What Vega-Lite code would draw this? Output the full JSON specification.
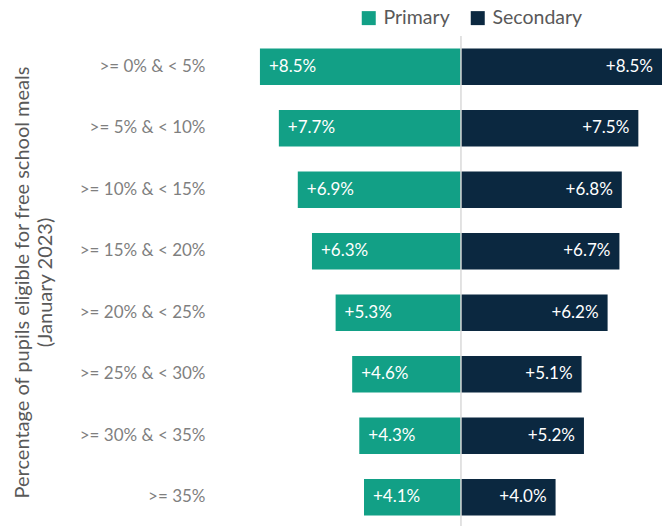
{
  "$schema": "https://vega.github.io/schema/vega-lite/v6.json",
  "autosize": "none",
  "width": 447,
  "height": 492,
  "padding": {"left": 215, "top": 36, "right": 0, "bottom": 0},
  "background": "white",
  "config": {
    "view": {"stroke": null},
    "font": "Lato"
  },
  "data": {
    "values": [
      {"band": ">= 0% & < 5%", "series": "Primary", "value": -8.5, "label": "+8.5%"},
      {"band": ">= 0% & < 5%", "series": "Secondary", "value": 8.5, "label": "+8.5%"},
      {"band": ">= 5% & < 10%", "series": "Primary", "value": -7.7, "label": "+7.7%"},
      {"band": ">= 5% & < 10%", "series": "Secondary", "value": 7.5, "label": "+7.5%"},
      {"band": ">= 10% & < 15%", "series": "Primary", "value": -6.9, "label": "+6.9%"},
      {"band": ">= 10% & < 15%", "series": "Secondary", "value": 6.8, "label": "+6.8%"},
      {"band": ">= 15% & < 20%", "series": "Primary", "value": -6.3, "label": "+6.3%"},
      {"band": ">= 15% & < 20%", "series": "Secondary", "value": 6.7, "label": "+6.7%"},
      {"band": ">= 20% & < 25%", "series": "Primary", "value": -5.3, "label": "+5.3%"},
      {"band": ">= 20% & < 25%", "series": "Secondary", "value": 6.2, "label": "+6.2%"},
      {"band": ">= 25% & < 30%", "series": "Primary", "value": -4.6, "label": "+4.6%"},
      {"band": ">= 25% & < 30%", "series": "Secondary", "value": 5.1, "label": "+5.1%"},
      {"band": ">= 30% & < 35%", "series": "Primary", "value": -4.3, "label": "+4.3%"},
      {"band": ">= 30% & < 35%", "series": "Secondary", "value": 5.2, "label": "+5.2%"},
      {"band": ">= 35%", "series": "Primary", "value": -4.1, "label": "+4.1%"},
      {"band": ">= 35%", "series": "Secondary", "value": 4.0, "label": "+4.0%"}
    ]
  },
  "layer": [
    {
      "encoding": {
        "y": {
          "field": "band",
          "type": "nominal",
          "sort": null,
          "scale": {"paddingInner": 0.41, "paddingOuter": 0.205},
          "axis": {
            "title": ["Percentage of pupils eligible for free school meals", "(January 2023)"],
            "titleFont": "Lato",
            "titleFontSize": 20,
            "titleFontWeight": "normal",
            "titleColor": "#595959",
            "titlePadding": 24,
            "titleLineHeight": 23,
            "labelFont": "Lato",
            "labelFontSize": 17,
            "labelColor": "#7f7f7f",
            "labelPadding": 10,
            "ticks": false,
            "domain": false,
            "grid": false
          }
        }
      },
      "layer": [
        {
          "mark": {"type": "bar"},
          "encoding": {
            "x": {
              "field": "value",
              "type": "quantitative",
              "scale": {"domain": [-10.4, 8.5], "nice": false, "zero": false},
              "axis": null
            },
            "color": {
              "field": "series",
              "type": "nominal",
              "scale": {"domain": ["Primary", "Secondary"], "range": ["#12a086", "#0b2840"]},
              "legend": {
                "title": null,
                "orient": "none",
                "legendX": 144,
                "legendY": -28,
                "direction": "horizontal",
                "symbolType": "square",
                "symbolSize": 196,
                "symbolStrokeWidth": 0,
                "labelFont": "Lato",
                "labelFontSize": 19.5,
                "labelColor": "#595959",
                "labelOffset": 5,
                "columnPadding": 18
              }
            }
          }
        },
        {
          "transform": [{"filter": "datum.series == 'Primary'"}],
          "mark": {"type": "text", "align": "left", "baseline": "middle", "dx": 9, "color": "white", "fontSize": 17, "font": "Lato"},
          "encoding": {
            "x": {"field": "value", "type": "quantitative"},
            "text": {"field": "label"}
          }
        },
        {
          "transform": [{"filter": "datum.series == 'Secondary'"}],
          "mark": {"type": "text", "align": "right", "baseline": "middle", "dx": -9, "color": "white", "fontSize": 17, "font": "Lato"},
          "encoding": {
            "x": {"field": "value", "type": "quantitative"},
            "text": {"field": "label"}
          }
        }
      ]
    },
    {
      "data": {"values": [{"zero": 0}]},
      "mark": {"type": "rule", "color": "#d9d9d9", "strokeWidth": 1.5},
      "encoding": {
        "x": {"field": "zero", "type": "quantitative"}
      }
    }
  ]
}
